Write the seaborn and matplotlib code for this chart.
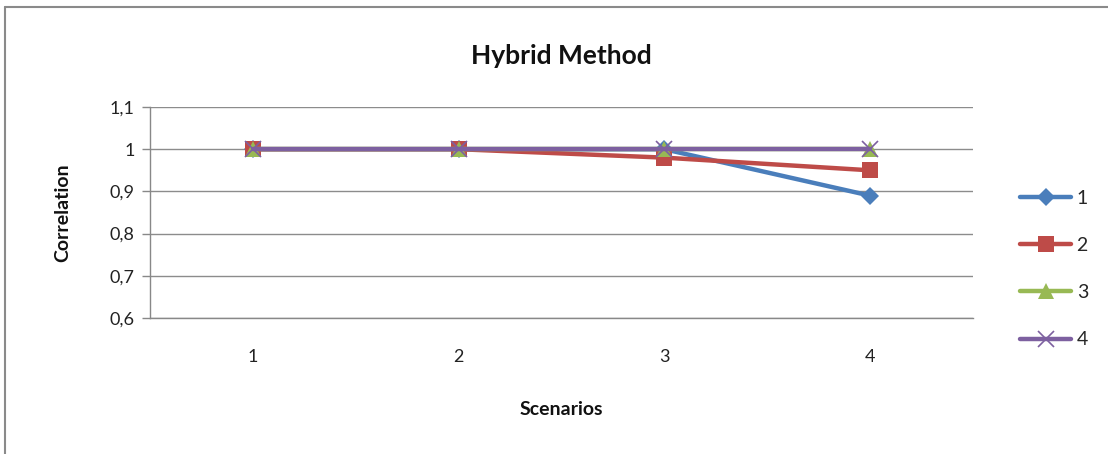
import matplotlib
matplotlib.use("Agg")
import matplotlib.pyplot as plt
from matplotlib.lines import Line2D
import seaborn as sns
import pandas as pd

# Chart data
scenarios = [1, 2, 3, 4]
series_names = ["1", "2", "3", "4"]
corr_1 = [1.0, 1.0, 1.0, 0.89]
corr_2 = [1.0, 1.0, 0.98, 0.95]
corr_3 = [1.0, 1.0, 1.0, 1.0]
corr_4 = [1.0, 1.0, 1.0, 1.0]
y_ticks = [0.6, 0.7, 0.8, 0.9, 1.0, 1.1]
y_tick_labels = ["0,6", "0,7", "0,8", "0,9", "1", "1,1"]

colors = ["#4A7EBB", "#BE4B48", "#98B954", "#7D60A0"]
markers = ["D", "s", "^", "x"]
marker_sizes = [9, 12, 11, 11]

df = pd.DataFrame({
    "Scenario": scenarios * 4,
    "Correlation": corr_1 + corr_2 + corr_3 + corr_4,
    "Series": [s for s in series_names for _ in scenarios],
})

sns.set_theme(style="white")
plt.rcParams["font.family"] = ["Lato", "DejaVu Sans"]

fig = plt.figure(figsize=(11.08, 4.54), dpi=100)
ax = fig.add_axes([0.1354, 0.2996, 0.7426, 0.4647])

for name, col, mk, ms in zip(series_names, colors, markers, marker_sizes):
    sub = df[df["Series"] == name]
    sns.lineplot(data=sub, x="Scenario", y="Correlation", ax=ax, color=col,
                 linewidth=3.2, marker=mk, markersize=ms,
                 markeredgewidth=1.2 if mk == "x" else 0,
                 markeredgecolor=col, label=name, legend=False,
                 errorbar=None, zorder=3)

ax.set_xlim(0.5, 4.5)
ax.set_ylim(0.6, 1.1)
ax.set_yticks(y_ticks)
ax.set_yticklabels(y_tick_labels, fontsize=13, color="#222222")
ax.set_xticks(scenarios)
ax.set_xticklabels([str(s) for s in scenarios], fontsize=13, color="#222222")
ax.tick_params(axis="x", which="major", length=0, pad=22)
ax.set_xticks([0.5, 1.5, 2.5, 3.5, 4.5], minor=True)
ax.tick_params(axis="x", which="minor", length=7, color="#888888", width=1, direction="out")
ax.tick_params(axis="y", length=6, color="#888888", width=1, direction="out", left=True, pad=5)

ax.yaxis.grid(True, color="#8c8c8c", linewidth=1)
ax.xaxis.grid(False)
for side in ["top", "right"]:
    ax.spines[side].set_visible(False)
for side in ["left", "bottom"]:
    ax.spines[side].set_color("#888888")
    ax.spines[side].set_linewidth(1)

ax.set_title("Hybrid Method", fontsize=19, fontweight="bold", pad=31, color="#111111")
ax.set_xlabel("Scenarios", fontsize=14, fontweight="bold", labelpad=26, color="#111111")
ax.set_ylabel("Correlation", fontsize=14, fontweight="bold", labelpad=28, color="#111111")

handles = [Line2D([0], [0], color=c, linewidth=3.2, marker=m, markersize=s,
                  markeredgewidth=1.2 if m == "x" else 0, markeredgecolor=c)
           for c, m, s in zip(colors, markers, marker_sizes)]
fig.legend(handles, series_names, loc="upper left", bbox_to_anchor=(0.905, 0.62),
           frameon=False, fontsize=14, handlelength=2.6, labelspacing=1.55,
           handletextpad=0.3)

# Outer chart frame
fig.add_artist(Line2D([0.0045, 0.0045], [0, 0.985], transform=fig.transFigure,
                      color="#8a8a8a", linewidth=1.5))
fig.add_artist(Line2D([0.0045, 1.0], [0.985, 0.985], transform=fig.transFigure,
                      color="#8a8a8a", linewidth=1.5))

fig.savefig("out.png", dpi=100, facecolor="white")
